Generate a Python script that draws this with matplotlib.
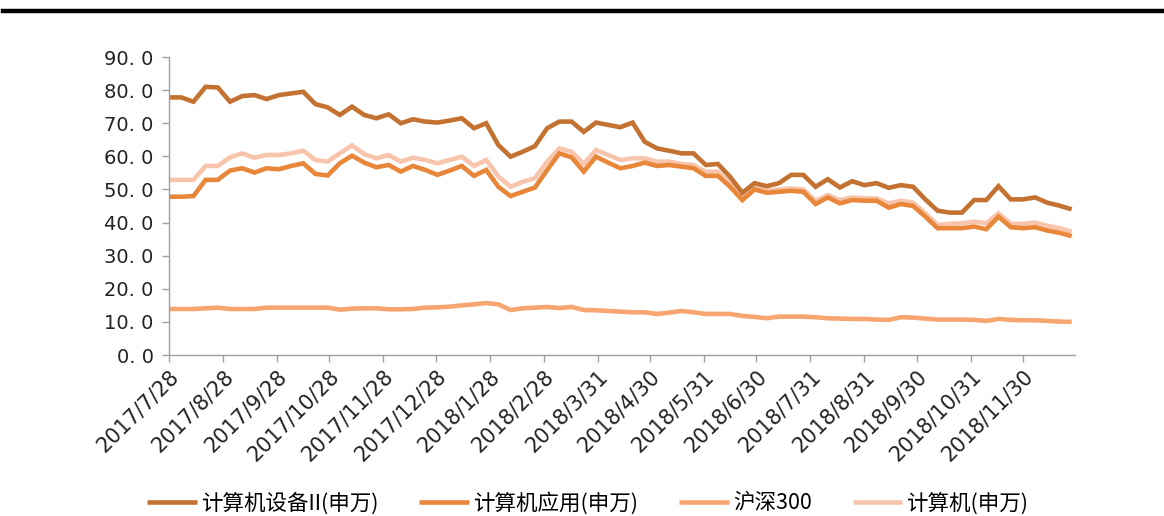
import matplotlib
matplotlib.use("Agg")
import matplotlib.pyplot as plt
from matplotlib.lines import Line2D
import pandas as pd

plt.rcParams['font.family'] = ['Noto Sans CJK SC', 'DejaVu Sans']

dates = pd.date_range("2017-07-28", periods=75, freq="7D")

equip = [77.8, 77.8, 76.5, 81.0, 80.8, 76.5, 78.2, 78.5, 77.3, 78.5,
         79.0, 79.5, 75.8, 74.8, 72.5, 75.0, 72.5, 71.5, 72.7, 70.0,
         71.2, 70.5, 70.2, 70.8, 71.5, 68.5, 70.0, 63.4, 59.9, 61.4,
         63.1, 68.5, 70.5, 70.5, 67.4, 70.2, 69.5, 68.8, 70.2, 64.4,
         62.4, 61.7, 60.9, 60.9, 57.4, 57.7, 53.8, 49.0, 51.9, 51.0,
         51.9, 54.4, 54.4, 50.8, 53.1, 50.6, 52.5, 51.3, 51.9, 50.5,
         51.3, 50.8, 47.0, 43.6, 43.0, 43.0, 46.8, 46.8, 51.0, 47.0,
         47.0, 47.6, 46.0, 45.1, 44.0]

app = [47.8, 47.8, 48.0, 52.9, 52.9, 55.7, 56.4, 55.1, 56.4, 56.1,
       57.1, 57.9, 54.7, 54.2, 57.9, 60.2, 58.1, 56.7, 57.4, 55.4,
       57.1, 55.9, 54.4, 55.7, 57.1, 54.1, 55.9, 50.8, 48.0, 49.3,
       50.6, 55.9, 60.9, 59.7, 55.4, 59.9, 58.1, 56.4, 57.1, 58.1,
       57.1, 57.4, 56.9, 56.4, 54.1, 54.1, 50.8, 46.8, 50.0, 49.0,
       49.3, 49.6, 49.3, 45.6, 47.6, 45.8, 46.8, 46.6, 46.6, 44.5,
       45.6, 45.0, 41.8, 38.3, 38.3, 38.3, 38.8, 38.0, 41.8, 38.6,
       38.3, 38.6, 37.6, 36.9, 35.9]

hs300 = [13.9, 13.9, 13.9, 14.1, 14.3, 13.9, 13.9, 13.9, 14.3, 14.3,
         14.3, 14.3, 14.3, 14.3, 13.7, 14.0, 14.1, 14.1, 13.8, 13.8,
         13.9, 14.3, 14.4, 14.6, 15.0, 15.3, 15.7, 15.3, 13.6, 14.1,
         14.3, 14.5, 14.2, 14.5, 13.6, 13.5, 13.3, 13.1, 12.9, 12.9,
         12.4, 12.8, 13.3, 12.9, 12.4, 12.4, 12.4, 11.8, 11.5, 11.1,
         11.6, 11.6, 11.6, 11.4, 11.1, 11.0, 10.9, 10.9, 10.7, 10.6,
         11.4, 11.3, 11.0, 10.7, 10.7, 10.7, 10.6, 10.3, 10.9, 10.6,
         10.5, 10.5, 10.3, 10.1, 10.0]

computer = [52.9, 52.9, 52.9, 57.1, 57.1, 59.7, 60.9, 59.6, 60.4, 60.4,
            60.9, 61.7, 58.9, 58.4, 60.9, 63.3, 60.7, 59.4, 60.4, 58.4,
            59.6, 58.9, 57.9, 58.9, 59.9, 57.1, 58.9, 53.9, 50.8, 52.3,
            53.4, 58.4, 62.4, 61.4, 57.7, 61.9, 60.4, 58.9, 59.4, 59.4,
            58.4, 58.4, 57.7, 57.4, 55.3, 55.4, 51.9, 47.5, 50.8, 49.6,
            50.0, 50.3, 50.0, 46.6, 48.3, 46.8, 47.6, 47.3, 47.3, 45.8,
            46.6, 46.0, 42.8, 39.3, 39.6, 39.8, 40.3, 39.8, 42.8, 39.6,
            39.6, 40.0, 39.0, 38.3, 37.2]

series_names = ["计算机设备II(申万)", "计算机应用(申万)", "沪深300", "计算机(申万)"]
colors = ["#C47232", "#E8863A", "#F7A571", "#F8C5AC"]

tick_dates = ["2017-07-28", "2017-08-28", "2017-09-28", "2017-10-28", "2017-11-28",
              "2017-12-28", "2018-01-28", "2018-02-28", "2018-03-31", "2018-04-30",
              "2018-05-31", "2018-06-30", "2018-07-31", "2018-08-31", "2018-09-30",
              "2018-10-31", "2018-11-30"]
tick_labels = ["2017/7/28", "2017/8/28", "2017/9/28", "2017/10/28", "2017/11/28",
               "2017/12/28", "2018/1/28", "2018/2/28", "2018/3/31", "2018/4/30",
               "2018/5/31", "2018/6/30", "2018/7/31", "2018/8/31", "2018/9/30",
               "2018/10/31", "2018/11/30"]
y_ticks = [0, 10, 20, 30, 40, 50, 60, 70, 80, 90]

fig = plt.figure(figsize=(11.64, 5.16), dpi=100)
ax = fig.add_axes([0.1452, 0.312, 0.7785, 0.5775])

order = [3, 2, 1, 0]
data = [equip, app, hs300, computer]
handles = [None] * 4
for k in order:
    (ln,) = ax.plot(dates, data[k], color=colors[k], lw=3.3, solid_joinstyle='miter',
                    solid_capstyle='butt', label=series_names[k])
    handles[k] = ln

ax.set_ylim(0, 90)
ax.set_xlim(dates[0], dates[-1] + pd.Timedelta(days=2))
ax.set_yticks(y_ticks)
ax.set_yticklabels([f"{v:.1f}".replace(".", ". ") for v in y_ticks],
                   fontsize=14, color="#222222", family=['DejaVu Sans'])
ax.set_xticks(pd.to_datetime(tick_dates))
ax.set_xticklabels(tick_labels, rotation=45, ha='right', va='top',
                   rotation_mode='anchor', fontsize=15, color="#222222",
                   family=['DejaVu Sans'])

for s in ['top', 'right']:
    ax.spines[s].set_visible(False)
for s in ['left', 'bottom']:
    ax.spines[s].set_color('#A0A0A0')
    ax.spines[s].set_linewidth(1.0)
ax.tick_params(axis='both', colors='#A0A0A0', length=5, width=1.0, labelcolor='#222222')
ax.tick_params(axis='x', pad=3)
ax.tick_params(axis='y', pad=6)

fig.legend(handles=handles, labels=series_names, loc='center', bbox_to_anchor=(0.505, 0.025),
           ncol=4, frameon=False, fontsize=15.5, handlelength=2.3, handletextpad=0.2,
           columnspacing=1.9, borderaxespad=0)

fig.add_artist(Line2D([0.003, 1.0], [1 - 11 / 516, 1 - 11 / 516],
                      transform=fig.transFigure, color='black', lw=3.2))

fig.savefig("out.png", dpi=100)
